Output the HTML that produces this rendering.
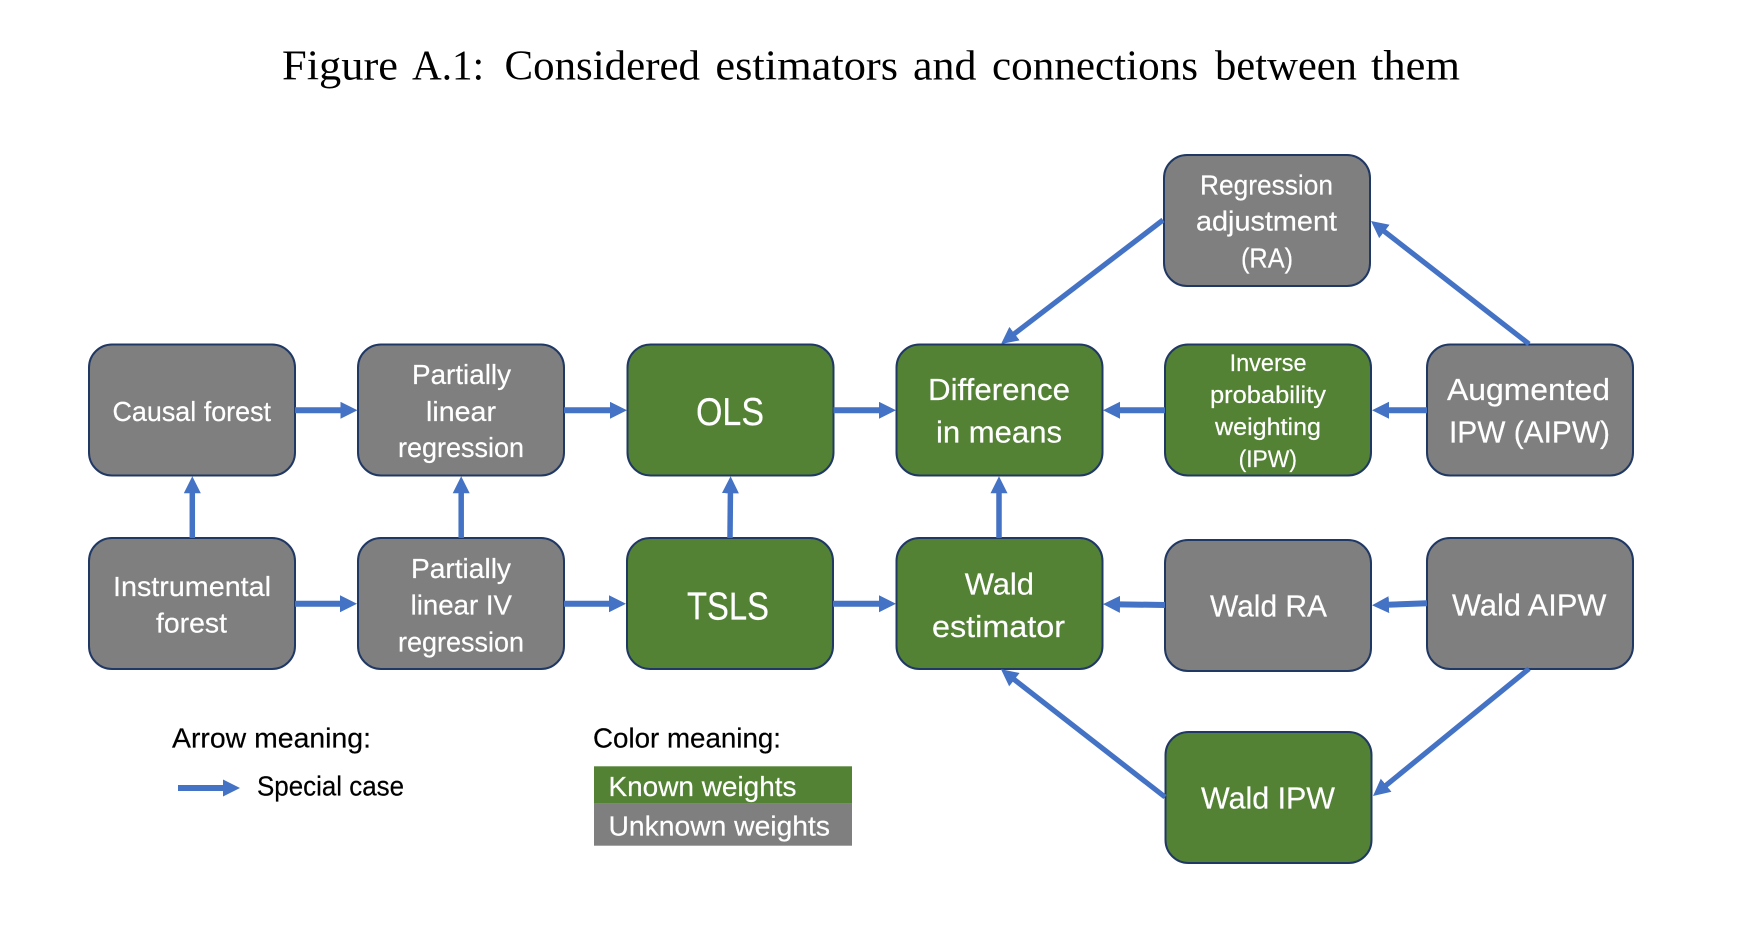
<!DOCTYPE html>
<html lang="en">
<head>
<meta charset="utf-8">
<title>Figure A.1</title>
<style>
html,body{margin:0;padding:0;background:#fff;width:1764px;height:944px;overflow:hidden}
svg{display:block}
.b{stroke:#203864;stroke-width:2}
.g{fill:#7f7f7f}
.v{fill:#548235}
text{font-family:"Liberation Sans",sans-serif;fill:#fff;font-size:28px;stroke:#fff;stroke-width:.2}
.k{fill:#000;stroke:#000}
text.t{font-family:"Liberation Serif",serif;font-size:42px;fill:#000;stroke:none}
.a{stroke:#4472c4;stroke-width:6;fill:none;marker-end:url(#h)}
.d{stroke-width:5.2}
.u{stroke-width:5.5}
</style>
</head>
<body>
<svg width="1764" height="944" viewBox="0 0 1764 944" xmlns="http://www.w3.org/2000/svg">
<defs>
<marker id="h" markerUnits="userSpaceOnUse" markerWidth="18" markerHeight="18" refX="9" refY="8.500" orient="auto">
<path d="M0 0L17 8.500L0 17z" fill="#4472c4"/>
</marker>
</defs>
<rect width="1764" height="944" fill="#fff"/>

<text class="t" x="282" y="79.500" textLength="116" lengthAdjust="spacingAndGlyphs">Figure</text>
<text class="t" x="412" y="79.500" textLength="72" lengthAdjust="spacingAndGlyphs">A.1:</text>
<text class="t" x="504.500" y="79.500" textLength="195.500" lengthAdjust="spacingAndGlyphs">Considered</text>
<text class="t" x="715.400" y="79.500" textLength="182.600" lengthAdjust="spacingAndGlyphs">estimators</text>
<text class="t" x="913" y="79.500" textLength="63.500" lengthAdjust="spacingAndGlyphs">and</text>
<text class="t" x="992" y="79.500" textLength="206" lengthAdjust="spacingAndGlyphs">connections</text>
<text class="t" x="1215" y="79.500" textLength="142" lengthAdjust="spacingAndGlyphs">between</text>
<text class="t" x="1371" y="79.500" textLength="89" lengthAdjust="spacingAndGlyphs">them</text>

<!-- boxes -->
<rect class="b g" x="89" y="344.500" width="206" height="131" rx="23"/>
<rect class="b g" x="358" y="344.500" width="206" height="131" rx="23"/>
<rect class="b v" x="627.500" y="344.500" width="206" height="131" rx="23"/>
<rect class="b v" x="896.500" y="344.500" width="206" height="131" rx="23"/>
<rect class="b v" x="1165" y="344.500" width="206" height="131" rx="23"/>
<rect class="b g" x="1427" y="344.500" width="206" height="131" rx="23"/>
<rect class="b g" x="1164" y="155" width="206" height="131" rx="23"/>
<rect class="b g" x="89" y="538" width="206" height="131" rx="23"/>
<rect class="b g" x="358" y="538" width="206" height="131" rx="23"/>
<rect class="b v" x="627" y="538" width="206" height="131" rx="23"/>
<rect class="b v" x="896.500" y="538" width="206" height="131" rx="23"/>
<rect class="b g" x="1165" y="540" width="206" height="131" rx="23"/>
<rect class="b g" x="1427" y="538" width="206" height="131" rx="23"/>
<rect class="b v" x="1165.500" y="732" width="206" height="131" rx="23"/>

<!-- arrows -->
<line class="a" x1="295" y1="410.300" x2="349.500" y2="410.300"/>
<line class="a" x1="564" y1="410.300" x2="619" y2="410.300"/>
<line class="a" x1="833.500" y1="410.300" x2="888" y2="410.300"/>
<line class="a" x1="1165" y1="410.300" x2="1111" y2="410.300"/>
<line class="a" x1="1427" y1="410.300" x2="1380" y2="410.300"/>
<line class="a" x1="295" y1="603.700" x2="349" y2="603.700"/>
<line class="a" x1="564" y1="603.700" x2="618" y2="603.700"/>
<line class="a" x1="833" y1="603.700" x2="888" y2="603.700"/>
<line class="a" x1="1165" y1="605" x2="1111" y2="604.200"/>
<line class="a" x1="1427" y1="603.300" x2="1380" y2="605"/>
<line class="a u" x1="192.300" y1="538" x2="192.300" y2="484.300"/>
<line class="a u" x1="461.200" y1="538" x2="461.200" y2="484.300"/>
<line class="a u" x1="730" y1="538" x2="730.500" y2="484.300"/>
<line class="a u" x1="999" y1="538" x2="999" y2="484.300"/>
<line class="a d" x1="1163" y1="220" x2="1007.400" y2="339.100"/>
<line class="a d" x1="1529" y1="344" x2="1377.300" y2="225.900"/>
<line class="a d" x1="1165" y1="797" x2="1007.300" y2="674.200"/>
<line class="a d" x1="1529" y1="668.700" x2="1379.200" y2="790.900"/>

<!-- labels -->
<text x="112.500" y="421" textLength="158.500" lengthAdjust="spacingAndGlyphs">Causal forest</text>
<text x="412" y="384" textLength="99" lengthAdjust="spacingAndGlyphs">Partially</text>
<text x="426" y="421" textLength="70" lengthAdjust="spacingAndGlyphs">linear</text>
<text x="398" y="457" textLength="126" lengthAdjust="spacingAndGlyphs">regression</text>
<text x="696" y="425" style="font-size:39px" textLength="68" lengthAdjust="spacingAndGlyphs">OLS</text>
<text x="1200" y="194.300" textLength="133" lengthAdjust="spacingAndGlyphs">Regression</text>
<text x="1196" y="230.700" textLength="141" lengthAdjust="spacingAndGlyphs">adjustment</text>
<text x="1241" y="267.700" textLength="52" lengthAdjust="spacingAndGlyphs">(RA)</text>
<text x="928" y="400" style="font-size:31px" textLength="142" lengthAdjust="spacingAndGlyphs">Difference</text>
<text x="936" y="442.700" style="font-size:31px" textLength="126" lengthAdjust="spacingAndGlyphs">in means</text>
<text x="1229.600" y="371" style="font-size:24px" textLength="77" lengthAdjust="spacingAndGlyphs">Inverse</text>
<text x="1210" y="403" style="font-size:24px" textLength="116" lengthAdjust="spacingAndGlyphs">probability</text>
<text x="1215" y="435" style="font-size:24px" textLength="106" lengthAdjust="spacingAndGlyphs">weighting</text>
<text x="1238.600" y="467" style="font-size:24px" textLength="58.400" lengthAdjust="spacingAndGlyphs">(IPW)</text>
<text x="1447" y="400" style="font-size:31px" textLength="163" lengthAdjust="spacingAndGlyphs">Augmented</text>
<text x="1449" y="442.300" style="font-size:31px" textLength="161" lengthAdjust="spacingAndGlyphs">IPW (AIPW)</text>
<text x="113" y="596" textLength="158" lengthAdjust="spacingAndGlyphs">Instrumental</text>
<text x="156" y="632.700" textLength="71" lengthAdjust="spacingAndGlyphs">forest</text>
<text x="411" y="578" textLength="100" lengthAdjust="spacingAndGlyphs">Partially</text>
<text x="410.600" y="614.700" textLength="101.400" lengthAdjust="spacingAndGlyphs">linear IV</text>
<text x="398" y="651.300" textLength="126" lengthAdjust="spacingAndGlyphs">regression</text>
<text x="687" y="619.300" style="font-size:39px" textLength="82" lengthAdjust="spacingAndGlyphs">TSLS</text>
<text x="964.700" y="594.700" style="font-size:31px" textLength="69.300" lengthAdjust="spacingAndGlyphs">Wald</text>
<text x="932" y="637" style="font-size:31px" textLength="133" lengthAdjust="spacingAndGlyphs">estimator</text>
<text x="1210" y="616.300" style="font-size:31px" textLength="117" lengthAdjust="spacingAndGlyphs">Wald RA</text>
<text x="1452" y="615.300" style="font-size:31px" textLength="154.400" lengthAdjust="spacingAndGlyphs">Wald AIPW</text>
<text x="1201" y="808.700" style="font-size:31px" textLength="134" lengthAdjust="spacingAndGlyphs">Wald IPW</text>

<!-- legend -->
<text class="k" x="172" y="747.300" textLength="199" lengthAdjust="spacingAndGlyphs">Arrow meaning:</text>
<line class="a" x1="178" y1="788" x2="232" y2="788"/>
<text class="k" x="257" y="795.300" textLength="147" lengthAdjust="spacingAndGlyphs">Special case</text>
<text class="k" x="593" y="747.300" textLength="188" lengthAdjust="spacingAndGlyphs">Color meaning:</text>
<rect x="594" y="766.300" width="258" height="37.400" fill="#548235"/>
<rect x="594" y="803.700" width="258" height="42" fill="#7f7f7f"/>
<text x="608.500" y="796" textLength="188" lengthAdjust="spacingAndGlyphs">Known weights</text>
<text x="608.500" y="835.300" textLength="221.500" lengthAdjust="spacingAndGlyphs">Unknown weights</text>
</svg>
</body>
</html>
